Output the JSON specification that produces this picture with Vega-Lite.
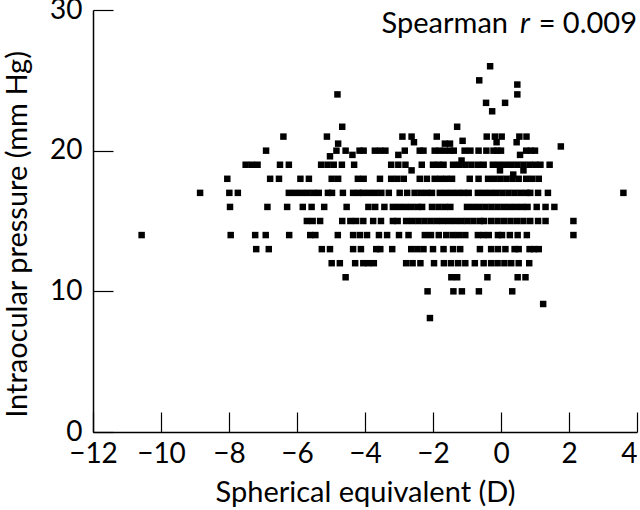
{
  "$schema": "https://vega.github.io/schema/vega-lite/v6.json",
  "width": 544,
  "height": 422,
  "autosize": {"type": "none"},
  "padding": {"left": 93, "top": 10, "right": 3, "bottom": 78},
  "background": "white",
  "config": {"view": {"stroke": null}, "font": "Lato"},
  "datasets": {
    "pts": [
      {"x": -0.32, "y": 26}, {"x": -0.64, "y": 25}, {"x": 0.48, "y": 24.7}, {"x": 0.48, "y": 24}, {"x": -0.44, "y": 23.4}, {"x": 0.12, "y": 23.4}, {"x": -0.26, "y": 22.8}, {"x": -1.29, "y": 21.7}, {"x": -4.81, "y": 24}, {"x": -4.67, "y": 21.7},
      {"x": -6.4, "y": 21}, {"x": -5.12, "y": 21}, {"x": -2.9, "y": 21}, {"x": -2.63, "y": 21}, {"x": -1.89, "y": 21}, {"x": -0.42, "y": 21}, {"x": -0.18, "y": 21}, {"x": 0.02, "y": 21}, {"x": 0.54, "y": 21}, {"x": 0.75, "y": 21},
      {"x": -4.79, "y": 20.5}, {"x": -2.56, "y": 20.6}, {"x": -0.13, "y": 20.6}, {"x": 0.46, "y": 20.6}, {"x": -1.65, "y": 20.5}, {"x": -1.5, "y": 20.5}, {"x": -1.13, "y": 20.7}, {"x": 1.76, "y": 20.3},
      {"x": -6.91, "y": 20}, {"x": -4.84, "y": 20}, {"x": -4.57, "y": 20}, {"x": -4.16, "y": 20}, {"x": -4.04, "y": 20}, {"x": -3.71, "y": 20}, {"x": -3.55, "y": 20}, {"x": -3.4, "y": 20}, {"x": -2.83, "y": 20}, {"x": -2.39, "y": 20}, {"x": -2.28, "y": 20}, {"x": -1.95, "y": 20}, {"x": -1.8, "y": 20}, {"x": -1.65, "y": 20}, {"x": -1.5, "y": 20}, {"x": -1.39, "y": 20}, {"x": -1.07, "y": 20}, {"x": -0.9, "y": 20}, {"x": -0.66, "y": 20}, {"x": -0.43, "y": 20}, {"x": -0.22, "y": 20}, {"x": -0.11, "y": 20}, {"x": 0.0, "y": 20}, {"x": 0.74, "y": 20}, {"x": 0.87, "y": 20}, {"x": 1.0, "y": 20},
      {"x": -4.37, "y": 19.7}, {"x": -5.03, "y": 19.6}, {"x": -3.02, "y": 19.7}, {"x": 0.56, "y": 19.7}, {"x": -1.16, "y": 19.3},
      {"x": -7.51, "y": 19}, {"x": -7.33, "y": 19}, {"x": -7.16, "y": 19}, {"x": -6.5, "y": 19}, {"x": -6.24, "y": 19}, {"x": -5.29, "y": 19}, {"x": -5.1, "y": 19}, {"x": -4.92, "y": 19}, {"x": -4.68, "y": 19}, {"x": -4.32, "y": 19}, {"x": -3.23, "y": 19}, {"x": -3.02, "y": 19}, {"x": -2.81, "y": 19}, {"x": -2.33, "y": 19}, {"x": -2.0, "y": 19}, {"x": -1.84, "y": 19}, {"x": -1.69, "y": 19}, {"x": -1.41, "y": 19}, {"x": -1.23, "y": 19}, {"x": -1.05, "y": 19}, {"x": -0.87, "y": 19}, {"x": -0.68, "y": 19}, {"x": -0.51, "y": 19}, {"x": -0.24, "y": 19}, {"x": -0.06, "y": 19}, {"x": 0.12, "y": 19}, {"x": 0.3, "y": 19}, {"x": 0.48, "y": 19}, {"x": 0.66, "y": 19}, {"x": 0.84, "y": 19}, {"x": 1.01, "y": 19}, {"x": 1.16, "y": 19}, {"x": 1.43, "y": 19},
      {"x": -2.63, "y": 18.6}, {"x": -0.03, "y": 18.6}, {"x": 0.66, "y": 18.6}, {"x": 0.36, "y": 18.3},
      {"x": -8.05, "y": 18}, {"x": -6.79, "y": 18}, {"x": -6.53, "y": 18}, {"x": -5.9, "y": 18}, {"x": -5.65, "y": 18}, {"x": -4.98, "y": 18}, {"x": -4.79, "y": 18}, {"x": -4.21, "y": 18}, {"x": -4.04, "y": 18}, {"x": -3.56, "y": 18}, {"x": -3.23, "y": 18}, {"x": -3.05, "y": 18}, {"x": -2.86, "y": 18}, {"x": -2.39, "y": 18}, {"x": -2.18, "y": 18}, {"x": -1.95, "y": 18}, {"x": -1.78, "y": 18}, {"x": -1.61, "y": 18}, {"x": -1.44, "y": 18}, {"x": -0.92, "y": 18}, {"x": -0.66, "y": 18}, {"x": -0.38, "y": 18}, {"x": -0.2, "y": 18}, {"x": -0.02, "y": 18}, {"x": 0.16, "y": 18}, {"x": 0.34, "y": 18}, {"x": 0.52, "y": 18}, {"x": 0.74, "y": 18}, {"x": 0.92, "y": 18}, {"x": 1.11, "y": 18},
      {"x": -8.85, "y": 17}, {"x": -7.99, "y": 17}, {"x": -7.74, "y": 17}, {"x": -6.24, "y": 17}, {"x": -6.06, "y": 17}, {"x": -5.88, "y": 17}, {"x": -5.7, "y": 17}, {"x": -5.52, "y": 17}, {"x": -5.36, "y": 17}, {"x": -5.09, "y": 17}, {"x": -4.97, "y": 17}, {"x": -4.65, "y": 17}, {"x": -4.35, "y": 17}, {"x": -4.19, "y": 17}, {"x": -4.06, "y": 17}, {"x": -3.88, "y": 17}, {"x": -3.7, "y": 17}, {"x": -3.52, "y": 17}, {"x": -3.3, "y": 17}, {"x": -2.98, "y": 17}, {"x": -2.76, "y": 17}, {"x": -2.54, "y": 17}, {"x": -2.36, "y": 17}, {"x": -2.18, "y": 17}, {"x": -2.03, "y": 17}, {"x": -1.8, "y": 17}, {"x": -1.62, "y": 17}, {"x": -1.44, "y": 17}, {"x": -1.26, "y": 17}, {"x": -1.1, "y": 17}, {"x": -0.95, "y": 17}, {"x": -0.68, "y": 17}, {"x": -0.5, "y": 17}, {"x": -0.32, "y": 17}, {"x": -0.14, "y": 17}, {"x": 0.04, "y": 17}, {"x": 0.22, "y": 17}, {"x": 0.4, "y": 17}, {"x": 0.58, "y": 17}, {"x": 0.76, "y": 17}, {"x": 0.86, "y": 17}, {"x": 1.09, "y": 17}, {"x": 1.38, "y": 17}, {"x": 3.6, "y": 17},
      {"x": -7.97, "y": 16}, {"x": -6.87, "y": 16}, {"x": -6.29, "y": 16}, {"x": -5.83, "y": 16}, {"x": -5.57, "y": 16}, {"x": -5.2, "y": 16}, {"x": -4.54, "y": 16}, {"x": -3.9, "y": 16}, {"x": -3.7, "y": 16}, {"x": -3.43, "y": 16}, {"x": -3.18, "y": 16}, {"x": -3.0, "y": 16}, {"x": -2.82, "y": 16}, {"x": -2.64, "y": 16}, {"x": -2.46, "y": 16}, {"x": -2.32, "y": 16}, {"x": -2.03, "y": 16}, {"x": -1.84, "y": 16}, {"x": -1.66, "y": 16}, {"x": -1.49, "y": 16}, {"x": -1.0, "y": 16}, {"x": -0.82, "y": 16}, {"x": -0.64, "y": 16}, {"x": -0.46, "y": 16}, {"x": -0.28, "y": 16}, {"x": -0.1, "y": 16}, {"x": 0.08, "y": 16}, {"x": 0.26, "y": 16}, {"x": 0.44, "y": 16}, {"x": 0.62, "y": 16}, {"x": 0.78, "y": 16}, {"x": 1.05, "y": 16}, {"x": 1.31, "y": 16}, {"x": 1.57, "y": 16},
      {"x": -5.71, "y": 15}, {"x": -5.54, "y": 15}, {"x": -5.32, "y": 15}, {"x": -4.67, "y": 15}, {"x": -4.43, "y": 15}, {"x": -4.26, "y": 15}, {"x": -4.05, "y": 15}, {"x": -3.76, "y": 15}, {"x": -3.53, "y": 15}, {"x": -3.18, "y": 15}, {"x": -3.04, "y": 15}, {"x": -2.79, "y": 15}, {"x": -2.61, "y": 15}, {"x": -2.43, "y": 15}, {"x": -2.25, "y": 15}, {"x": -2.07, "y": 15}, {"x": -1.89, "y": 15}, {"x": -1.71, "y": 15}, {"x": -1.53, "y": 15}, {"x": -1.35, "y": 15}, {"x": -1.17, "y": 15}, {"x": -0.99, "y": 15}, {"x": -0.81, "y": 15}, {"x": -0.62, "y": 15}, {"x": -0.5, "y": 15}, {"x": -0.29, "y": 15}, {"x": -0.1, "y": 15}, {"x": 0.09, "y": 15}, {"x": 0.28, "y": 15}, {"x": 0.47, "y": 15}, {"x": 0.66, "y": 15}, {"x": 0.86, "y": 15}, {"x": 1.09, "y": 15}, {"x": 1.31, "y": 15}, {"x": 2.13, "y": 15},
      {"x": -10.57, "y": 14}, {"x": -7.95, "y": 14}, {"x": -7.23, "y": 14}, {"x": -6.92, "y": 14}, {"x": -6.23, "y": 14}, {"x": -5.61, "y": 14}, {"x": -5.46, "y": 14}, {"x": -4.8, "y": 14}, {"x": -4.35, "y": 14}, {"x": -4.15, "y": 14}, {"x": -3.94, "y": 14}, {"x": -3.59, "y": 14}, {"x": -3.35, "y": 14}, {"x": -3.0, "y": 14}, {"x": -2.72, "y": 14}, {"x": -2.24, "y": 14}, {"x": -2.06, "y": 14}, {"x": -1.83, "y": 14}, {"x": -1.61, "y": 14}, {"x": -1.42, "y": 14}, {"x": -1.24, "y": 14}, {"x": -1.05, "y": 14}, {"x": -0.68, "y": 14}, {"x": -0.52, "y": 14}, {"x": -0.36, "y": 14}, {"x": -0.09, "y": 14}, {"x": 0.03, "y": 14}, {"x": 0.26, "y": 14}, {"x": 0.49, "y": 14}, {"x": 0.76, "y": 14}, {"x": 2.13, "y": 14},
      {"x": -7.2, "y": 13}, {"x": -6.83, "y": 13}, {"x": -5.27, "y": 13}, {"x": -5.03, "y": 13}, {"x": -4.35, "y": 13}, {"x": -4.12, "y": 13}, {"x": -3.67, "y": 13}, {"x": -3.55, "y": 13}, {"x": -3.2, "y": 13}, {"x": -2.64, "y": 13}, {"x": -2.46, "y": 13}, {"x": -2.28, "y": 13}, {"x": -2.0, "y": 13}, {"x": -1.69, "y": 13}, {"x": -1.41, "y": 13}, {"x": -1.2, "y": 13}, {"x": -0.62, "y": 13}, {"x": -0.29, "y": 13}, {"x": -0.09, "y": 13}, {"x": 0.13, "y": 13}, {"x": 0.4, "y": 13}, {"x": 0.52, "y": 13}, {"x": 0.84, "y": 13}, {"x": 0.97, "y": 13}, {"x": 1.11, "y": 13},
      {"x": -4.98, "y": 12}, {"x": -4.74, "y": 12}, {"x": -4.29, "y": 12}, {"x": -4.05, "y": 12}, {"x": -3.9, "y": 12}, {"x": -3.74, "y": 12}, {"x": -2.79, "y": 12}, {"x": -2.6, "y": 12}, {"x": -2.37, "y": 12}, {"x": -1.97, "y": 12}, {"x": -1.68, "y": 12}, {"x": -1.47, "y": 12}, {"x": -1.26, "y": 12}, {"x": -1.05, "y": 12}, {"x": -0.77, "y": 12}, {"x": -0.51, "y": 12}, {"x": -0.29, "y": 12}, {"x": -0.1, "y": 12}, {"x": 0.1, "y": 12}, {"x": 0.3, "y": 12}, {"x": 0.52, "y": 12}, {"x": 0.83, "y": 12},
      {"x": -4.57, "y": 11}, {"x": -1.46, "y": 11}, {"x": -1.29, "y": 11}, {"x": -0.4, "y": 11}, {"x": 0.49, "y": 11}, {"x": 0.72, "y": 11},
      {"x": -2.16, "y": 10}, {"x": -1.4, "y": 10}, {"x": -1.15, "y": 10}, {"x": -0.65, "y": 10}, {"x": 0.33, "y": 10},
      {"x": 1.24, "y": 9.1}, {"x": -2.09, "y": 8.1}
    ],
    "lbl": [{"x": 4, "y": 30}]
  },
  "layer": [
    {
      "data": {"name": "pts"},
      "mark": {"type": "point", "shape": "square", "filled": true, "color": "black", "size": 42, "opacity": 1, "strokeWidth": 0},
      "encoding": {
        "x": {
          "field": "x", "type": "quantitative",
          "scale": {"domain": [-12, 4], "nice": false, "zero": false},
          "axis": {
            "title": "Spherical equivalent (D)",
            "values": [-12, -10, -8, -6, -4, -2, 0, 2, 4],
            "grid": false,
            "domainColor": "black", "domainWidth": 1.5,
            "tickColor": "black", "tickWidth": 1.2, "tickSize": -20,
            "labelPadding": 28, "labelFontSize": 28, "labelColor": "black", "labelFont": "Lato", "labelFlush": false,
            "labelAlign": {"condition": {"test": "datum.value == 4", "value": "right"}, "value": "center"},
            "titleFontSize": 29, "titleFontWeight": "normal", "titleColor": "black", "titleFont": "Lato",
            "titleY": 69, "titleBaseline": "alphabetic"
          }
        },
        "y": {
          "field": "y", "type": "quantitative",
          "scale": {"domain": [0, 30], "nice": false, "zero": false},
          "axis": {
            "title": "Intraocular pressure (mm Hg)",
            "values": [0, 10, 20, 30],
            "grid": false,
            "domainColor": "black", "domainWidth": 1.5,
            "tickColor": "black", "tickWidth": 1.2, "tickSize": -20,
            "labelPadding": 31, "labelFontSize": 28, "labelColor": "black", "labelFont": "Lato", "labelFlush": false,
            "titleFontSize": 29, "titleFontWeight": "normal", "titleColor": "black", "titleFont": "Lato",
            "titleX": -67, "titleY": 224, "titleAngle": -90, "titleBaseline": "alphabetic", "titleAlign": "center"
          }
        }
      }
    },
    {
      "data": {"name": "lbl"},
      "mark": {"type": "text", "text": "= 0.009", "align": "right", "baseline": "alphabetic", "dy": 23, "fontSize": 29, "font": "Lato", "color": "black"},
      "encoding": {"x": {"field": "x", "type": "quantitative"}, "y": {"field": "y", "type": "quantitative"}}
    },
    {
      "data": {"name": "lbl"},
      "mark": {"type": "text", "text": "r", "align": "right", "baseline": "alphabetic", "dx": -107, "dy": 23, "fontSize": 29, "font": "Lato", "fontStyle": "italic", "color": "black"},
      "encoding": {"x": {"field": "x", "type": "quantitative"}, "y": {"field": "y", "type": "quantitative"}}
    },
    {
      "data": {"name": "lbl"},
      "mark": {"type": "text", "text": "Spearman", "align": "right", "baseline": "alphabetic", "dx": -129, "dy": 23, "fontSize": 29, "font": "Lato", "color": "black"},
      "encoding": {"x": {"field": "x", "type": "quantitative"}, "y": {"field": "y", "type": "quantitative"}}
    }
  ]
}
